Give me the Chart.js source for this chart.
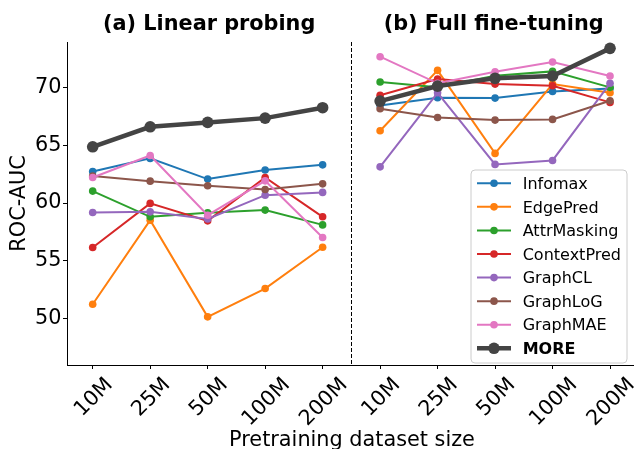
<!DOCTYPE html>
<html><head><meta charset="utf-8">
<script src="https://cdn.jsdelivr.net/npm/chart.js@4.4.1/dist/chart.umd.min.js"></script>
<style>html,body{margin:0;padding:0;background:#fff;overflow:hidden}</style>
</head><body>
<canvas id="c" width="634" height="449" style="width:634px;height:449px;display:block"></canvas>
<script>
// ---- data ----
const sizes = ['10M', '25M', '50M', '100M', '200M'];
const panelTitles = ['(a) Linear probing', '(b) Full fine-tuning'];
const methods = ['Infomax', 'EdgePred', 'AttrMasking', 'ContextPred', 'GraphCL', 'GraphLoG', 'GraphMAE', 'MORE'];
const colors = ['#1f77b4', '#ff7f0e', '#2ca02c', '#d62728', '#9467bd', '#8c564b', '#e377c2', '#444444'];
const yTicks = [50, 55, 60, 65, 70];

// Linear probing
const infomaxLP     = [62.73, 63.86, 62.07, 62.85, 63.30];
const edgePredLP    = [51.25, 58.52, 50.16, 52.61, 56.18];
const attrMaskingLP = [61.03, 58.81, 59.15, 59.39, 58.11];
const contextPredLP = [56.16, 59.97, 58.46, 62.21, 58.81];
const graphCLLP     = [59.18, 59.24, 58.63, 60.68, 60.92];
const graphLoGLP    = [62.33, 61.89, 61.49, 61.17, 61.66];
const graphMAELP    = [62.21, 64.11, 58.95, 61.92, 57.02];
const moreLP        = [64.86, 66.59, 66.97, 67.34, 68.24];

// Full fine-tuning
const infomaxFT     = [68.44, 69.10, 69.07, 69.65, 69.91];
const edgePredFT    = [66.25, 71.47, 64.29, 70.28, 69.53];
const attrMaskingFT = [70.46, 70.00, 71.00, 71.38, 70.00];
const contextPredFT = [69.31, 70.72, 70.28, 70.14, 68.70];
const graphCLFT     = [63.13, 69.53, 63.34, 63.68, 70.35];
const graphLoGFT    = [68.15, 67.40, 67.17, 67.23, 68.84];
const graphMAEFT    = [72.65, 70.35, 71.35, 72.19, 70.98];
const moreFT        = [68.81, 70.11, 70.78, 70.98, 73.37];

const lpSeries = [infomaxLP, edgePredLP, attrMaskingLP, contextPredLP, graphCLLP, graphLoGLP, graphMAELP, moreLP];
const ftSeries = [infomaxFT, edgePredFT, attrMaskingFT, contextPredFT, graphCLFT, graphLoGFT, graphMAEFT, moreFT];

const FONT = '"DejaVu Sans", sans-serif';
const BIG = 20.8;

function buildPoints(lp, ft) {
  const pts = lp.map((v, i) => ({x: i, y: v}));
  pts.push({x: 4.5, y: null});
  ft.forEach((v, i) => pts.push({x: i + 5, y: v}));
  return pts;
}

const datasets = methods.map((m, i) => {
  const isMore = m === 'MORE';
  return {
    label: m,
    data: buildPoints(lpSeries[i], ftSeries[i]),
    borderColor: colors[i],
    backgroundColor: colors[i],
    pointBackgroundColor: colors[i],
    pointBorderColor: colors[i],
    pointBorderWidth: 0,
    borderWidth: isMore ? 4.5 : 2,
    pointRadius: isMore ? 5.8 : 3.8,
    tension: 0,
    spanGaps: false,
    clip: 8,
    order: methods.length - 1 - i
  };
});

const decorPlugin = {
  id: 'decor',
  afterDraw(chart) {
    const ctx = chart.ctx;
    const xs = chart.scales.x;
    const area = chart.chartArea;
    ctx.save();
    // dashed separator
    const sx = xs.getPixelForValue(4.5);
    ctx.strokeStyle = '#000';
    ctx.lineWidth = 1;
    ctx.setLineDash([4, 2]);
    ctx.beginPath();
    ctx.moveTo(Math.round(sx) + 0.5, area.top);
    ctx.lineTo(Math.round(sx) + 0.5, area.bottom);
    ctx.stroke();
    ctx.setLineDash([]);

    // panel titles
    ctx.fillStyle = '#000';
    ctx.font = 'bold ' + BIG + 'px ' + FONT;
    ctx.textAlign = 'center';
    ctx.textBaseline = 'alphabetic';
    ctx.fillText(panelTitles[0], (area.left + sx) / 2, 30);
    ctx.fillText(panelTitles[1], (sx + xs.getPixelForValue(9.45)) / 2, 30);

    // x tick labels (rotated 45, centered)
    ctx.font = BIG + 'px ' + FONT;
    for (let i = 0; i < 10; i++) {
      const lab = sizes[i % 5];
      const px = xs.getPixelForValue(i);
      const L = ctx.measureText(lab).width;
      const h = 1.164 * BIG;
      const half = (L + h) * Math.SQRT1_2 / 2;
      ctx.save();
      ctx.translate(px, area.bottom + 7 + half);
      ctx.rotate(-Math.PI / 4);
      ctx.textAlign = 'center';
      ctx.textBaseline = 'alphabetic';
      ctx.fillText(lab, 0, 0.346 * BIG);
      ctx.restore();
    }

    // x axis title
    ctx.textAlign = 'center';
    ctx.fillText('Pretraining dataset size', 352, 445.5);

    // y axis title
    ctx.save();
    ctx.translate(25, (area.top + area.bottom) / 2);
    ctx.rotate(-Math.PI / 2);
    ctx.textAlign = 'center';
    ctx.textBaseline = 'alphabetic';
    ctx.fillText('ROC-AUC', 0, 0);
    ctx.restore();

    // legend
    const lx = 471, ly = 170, lw = 156, lh = 193, r = 4;
    ctx.beginPath();
    ctx.moveTo(lx + r, ly);
    ctx.arcTo(lx + lw, ly, lx + lw, ly + lh, r);
    ctx.arcTo(lx + lw, ly + lh, lx, ly + lh, r);
    ctx.arcTo(lx, ly + lh, lx, ly, r);
    ctx.arcTo(lx, ly, lx + lw, ly, r);
    ctx.closePath();
    ctx.fillStyle = 'rgba(255,255,255,0.8)';
    ctx.fill();
    ctx.strokeStyle = '#cccccc';
    ctx.lineWidth = 1;
    ctx.stroke();
    chart.data.datasets.forEach((ds, i) => {
      const ey = 183.3 + i * 23.57;
      ctx.strokeStyle = ds.borderColor;
      ctx.lineWidth = ds.borderWidth;
      ctx.beginPath();
      ctx.moveTo(477, ey);
      ctx.lineTo(511, ey);
      ctx.stroke();
      ctx.fillStyle = ds.borderColor;
      ctx.beginPath();
      ctx.arc(494, ey, ds.pointRadius, 0, Math.PI * 2);
      ctx.fill();
      ctx.fillStyle = '#000';
      ctx.font = (ds.label === 'MORE' ? 'bold ' : '') + '16px ' + FONT;
      ctx.textAlign = 'left';
      ctx.textBaseline = 'alphabetic';
      ctx.fillText(ds.label, 522.7, ey + 5.7);
    });
    ctx.restore();
  }
};

new Chart(document.getElementById('c'), {
  type: 'line',
  data: {datasets},
  options: {
    responsive: false,
    animation: false,
    devicePixelRatio: 1,
    layout: {autoPadding: false, padding: {top: 42, left: 0, right: 0, bottom: 0}},
    plugins: {legend: {display: false}, title: {display: false}, tooltip: {enabled: false}},
    scales: {
      x: {
        type: 'linear',
        min: -0.447,
        max: 9.417,
        afterBuildTicks: s => { s.ticks = [0,1,2,3,4,5,6,7,8,9].map(v => ({value: v})); },
        afterFit: s => { s.height = 84; },
        ticks: {display: false},
        grid: {drawOnChartArea: false, drawTicks: true, tickLength: 4, color: '#000', lineWidth: 1},
        border: {display: true, color: '#000', width: 1}
      },
      y: {
        type: 'linear',
        min: 46.0,
        max: 73.92,
        afterBuildTicks: s => { s.ticks = yTicks.map(v => ({value: v})); },
        afterFit: s => { s.width = 67; },
        ticks: {font: {family: FONT, size: BIG}, color: '#000', padding: 1.5},
        grid: {drawOnChartArea: false, drawTicks: true, tickLength: 4, color: '#000', lineWidth: 1},
        border: {display: true, color: '#000', width: 1}
      }
    }
  },
  plugins: [decorPlugin]
});
</script>
</body></html>
